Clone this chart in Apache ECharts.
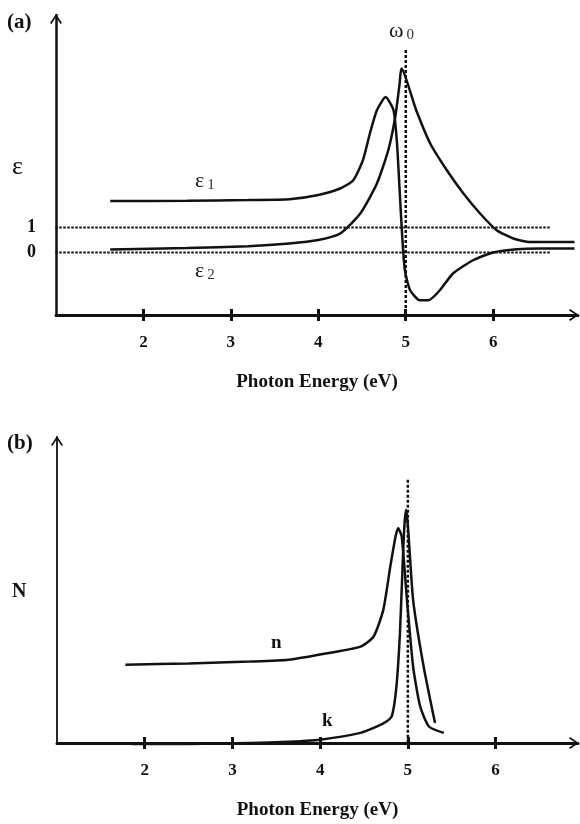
<!DOCTYPE html>
<html>
<head>
<meta charset="utf-8">
<script src="https://cdn.jsdelivr.net/npm/echarts@6/dist/echarts.min.js"></script>
<style>
  html, body { margin: 0; padding: 0; background: #fff; }
  #chart { width: 580px; height: 824px; }
</style>
</head>
<body>
<div id="chart"></div>
<script>
// tick values on the energy axis
var energyTicks = [2, 3, 4, 5, 6];
var epsTickLabels = [0, 1];

// panel (a): dielectric function, [energy eV, value]
var eps1 = [
  [1.62, 2.06], [2.5, 2.07], [3.2, 2.1], [3.67, 2.13], [4.0, 2.3], [4.25, 2.56],
  [4.4, 2.89], [4.51, 3.69], [4.59, 4.76], [4.67, 5.69], [4.77, 6.22], [4.86, 5.69],
  [4.9, 4.36], [4.93, 2.49], [4.96, 0.62], [4.99, -0.71], [5.05, -1.51], [5.16, -1.91],
  [5.26, -1.91], [5.39, -1.51], [5.54, -0.84], [5.77, -0.31], [6.0, 0.0],
  [6.27, 0.13], [6.53, 0.16], [6.93, 0.16]
];
var eps2 = [
  [1.62, 0.12], [2.5, 0.18], [3.2, 0.25], [3.67, 0.36], [4.0, 0.5], [4.25, 0.76],
  [4.48, 1.56], [4.67, 2.76], [4.8, 4.09], [4.88, 5.42], [4.93, 6.76], [4.95, 7.36],
  [5.12, 5.69], [5.28, 4.36], [5.47, 3.29], [5.66, 2.36], [5.85, 1.56], [6.04, 0.89],
  [6.23, 0.56], [6.42, 0.42], [6.93, 0.42]
];
var refOne = [[0.9, 1], [6.65, 1]];
var refZero = [[0.9, 0], [6.65, 0]];
var omega0Line = [[5, 8.1], [5, -2.5]];

// panel (b): refractive index n and extinction k
var nIndex = [
  [1.78, 2.56], [2.5, 2.6], [3.2, 2.66], [3.64, 2.72], [4.1, 2.94], [4.46, 3.15],
  [4.61, 3.48], [4.72, 4.35], [4.8, 5.77], [4.86, 6.75], [4.89, 7.02], [4.93, 6.75],
  [4.99, 4.68], [5.06, 2.5], [5.14, 1.2], [5.24, 0.54], [5.41, 0.33]
];
var kIndex = [
  [1.85, -0.03], [2.5, -0.03], [3.2, 0.0], [3.56, 0.03], [4.0, 0.11], [4.46, 0.33],
  [4.65, 0.54], [4.76, 0.71], [4.82, 0.9], [4.87, 1.85], [4.91, 3.59], [4.94, 5.77],
  [4.96, 7.07], [4.98, 7.62], [5.06, 4.68], [5.18, 2.5], [5.31, 0.65]
];
var omega0LineB = [[5, 8.6], [5, 0]];

var ink = '#111';
var serif = 'Liberation Serif';
var chevron = 'path://M0,9 L6,0 L12,9 L10.6,10 L6,3 L1.4,10 Z';

function energyAxis(gridIndex, max, withLine) {
  return {
    type: 'value', gridIndex: gridIndex, min: 1, max: max, position: 'bottom',
    splitLine: { show: false },
    axisLine: withLine ? {
      show: true, onZero: false, lineStyle: { color: ink, width: 3 },
      symbol: ['none', chevron], symbolSize: [12, 10], symbolOffset: [0, -4]
    } : { show: false, onZero: false },
    axisTick: {
      show: true, inside: !withLine, length: 6, customValues: energyTicks,
      lineStyle: { color: ink, width: 3 }
    },
    axisLabel: withLine ? {
      show: true, customValues: energyTicks, margin: 19,
      color: ink, fontFamily: serif, fontWeight: 'bold', fontSize: 17
    } : { show: false },
    name: withLine ? 'Photon Energy (eV)' : '',
    nameLocation: 'middle', nameGap: 58,
    nameTextStyle: { color: ink, fontFamily: serif, fontWeight: 'bold', fontSize: 19 }
  };
}

function curve(data, xi, yi, w) {
  return {
    type: 'line', data: data, xAxisIndex: xi, yAxisIndex: yi,
    symbol: 'none', smooth: 0.2, clip: false,
    lineStyle: { color: ink, width: w || 2.5 }, silent: true
  };
}

function dotted(data, xi, yi, w, dash) {
  return {
    type: 'line', data: data, xAxisIndex: xi, yAxisIndex: yi,
    symbol: 'none', clip: false, silent: true,
    lineStyle: { color: ink, width: w, type: dash }
  };
}

function sub(main, idx, x, y, size) {
  return {
    type: 'text', left: x, top: y,
    style: {
      text: '{m|' + main + '}{s|' + idx + '}',
      rich: {
        m: { fontFamily: serif, fontSize: size, fill: ink },
        s: { fontFamily: serif, fontSize: Math.round(size * 0.7), fill: '#333', padding: [8, 0, 0, 3] }
      }
    }
  };
}

function boldText(t, x, y, size) {
  return {
    type: 'text', left: x, top: y,
    style: { text: t, fontFamily: serif, fontWeight: 'bold', fontSize: size, fill: ink }
  };
}

var chart = echarts.init(document.getElementById('chart'));

var option = {
  animation: false,
  backgroundColor: '#fff',
  grid: [
    { left: 56, top: 15, width: 522, height: 300 },
    { left: 57, top: 437, width: 521, height: 306 }
  ],
  xAxis: [
    energyAxis(0, 6.97, true),
    energyAxis(0, 6.97, false),
    energyAxis(1, 6.94, true),
    energyAxis(1, 6.94, false)
  ],
  yAxis: [
    {
      type: 'value', gridIndex: 0, min: -2.5, max: 9.5, interval: 0.5,
      splitLine: { show: false }, axisTick: { show: false },
      axisLine: {
        show: true, onZero: false, lineStyle: { color: ink, width: 2.5 },
        symbol: ['none', chevron], symbolSize: [12, 10], symbolOffset: [0, -4]
      },
      axisLabel: {
        margin: 20, color: ink, fontFamily: serif, fontWeight: 'bold', fontSize: 18,
        formatter: function (v) { return epsTickLabels.indexOf(v) >= 0 ? String(v) : ''; }
      }
    },
    {
      type: 'value', gridIndex: 1, min: 0, max: 10,
      splitLine: { show: false }, axisTick: { show: false }, axisLabel: { show: false },
      axisLine: {
        show: true, onZero: false, lineStyle: { color: ink, width: 1.8 },
        symbol: ['none', chevron], symbolSize: [12, 10], symbolOffset: [0, -4]
      }
    }
  ],
  series: [
    dotted(refOne, 0, 0, 2, [2.5, 1.5]),
    dotted(refZero, 0, 0, 2, [2.5, 1.5]),
    dotted(omega0Line, 0, 0, 2.5, [3, 2]),
    curve(eps1, 0, 0),
    curve(eps2, 0, 0),
    dotted(omega0LineB, 2, 1, 2.5, [3, 2]),
    curve(nIndex, 2, 1),
    curve(kIndex, 2, 1)
  ],
  graphic: [
    boldText('(a)', 7, 12, 21),
    boldText('(b)', 7, 433, 21),
    { type: 'text', left: 12, top: 154, style: { text: 'ε', fontFamily: serif, fontSize: 26, fill: ink } },
    sub('ε', '1', 195, 170, 22),
    sub('ε', '2', 195, 260, 22),
    sub('ω', '0', 389, 20, 22),
    boldText('N', 12, 582, 20),
    boldText('n', 271, 634, 19),
    boldText('k', 322, 712, 19)
  ]
};

chart.setOption(option);
</script>
</body>
</html>
